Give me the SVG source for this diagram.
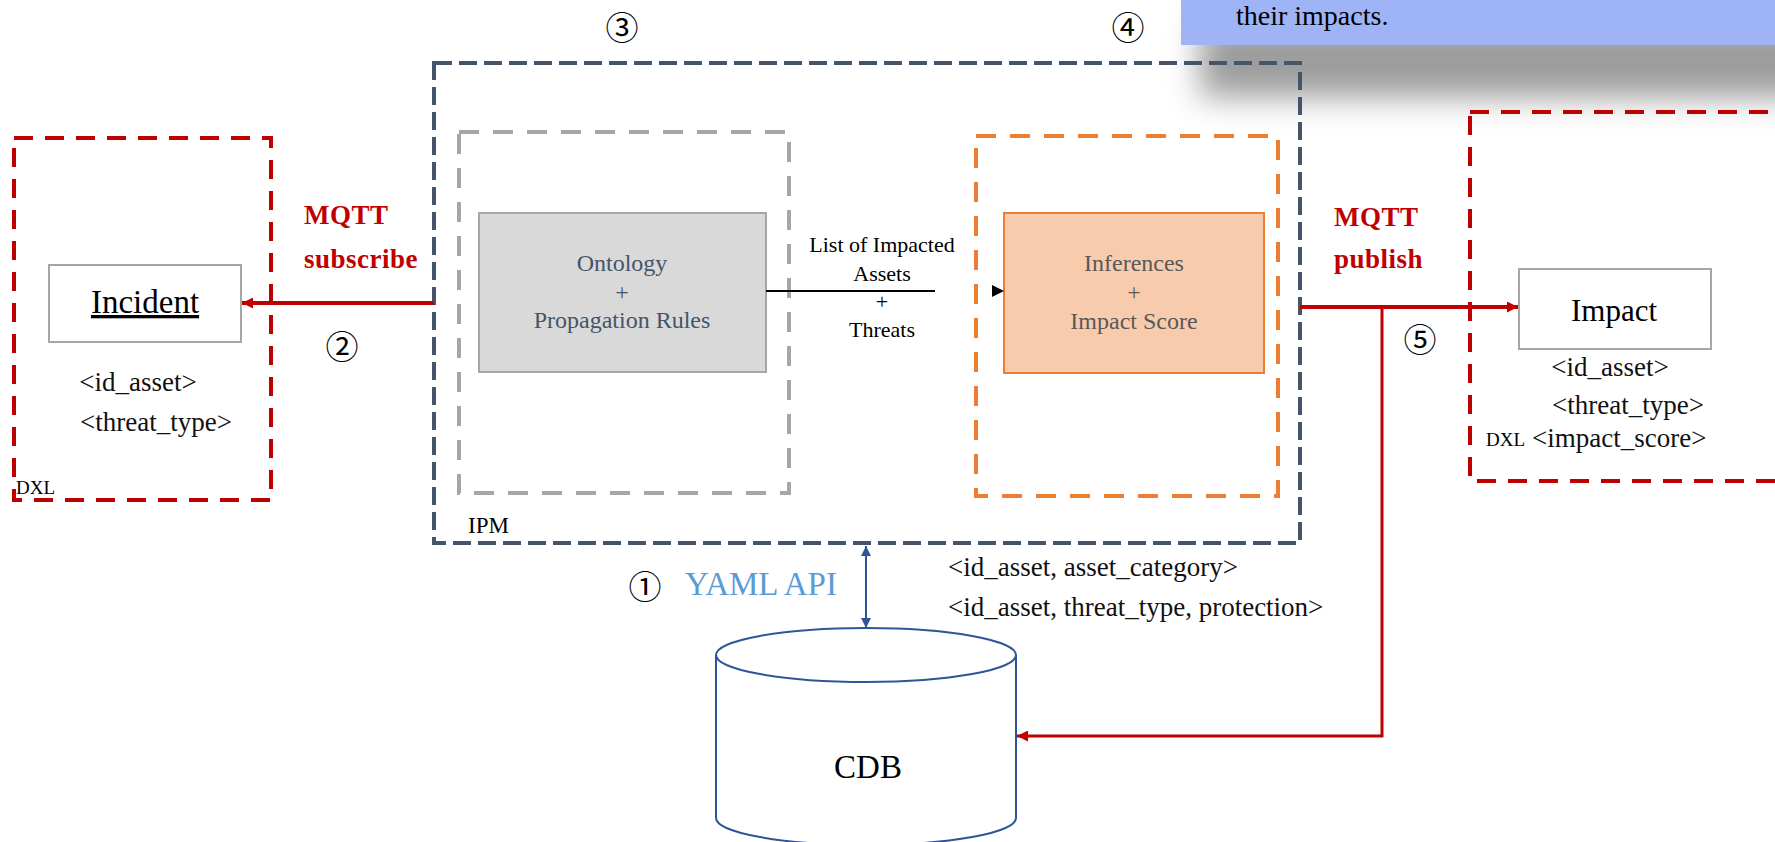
<svg xmlns="http://www.w3.org/2000/svg" width="1775" height="842" viewBox="0 0 1775 842">
<style>
.s{font-family:"Liberation Serif","Times New Roman",serif;}
.c{font-family:"Noto Sans CJK JP","DejaVu Sans",sans-serif;font-size:33px;text-anchor:middle;fill:#000;}
.red{fill:#c00000;font-size:27px;font-weight:bold;letter-spacing:0.5px;}
.sm{font-size:27px;fill:#111;}
.box{font-size:24px;text-anchor:middle;}
.dxl{fill:none;stroke:#c00000;stroke-width:4;stroke-dasharray:19 12;}
.wbox{fill:#fff;stroke:#a6a6a6;stroke-width:2;}
</style>
<defs>
<filter id="sh" x="-30%" y="-100%" width="160%" height="300%"><feGaussianBlur stdDeviation="16"/></filter>
<marker id="mr" viewBox="0 0 10 10" refX="10" refY="5" markerWidth="12" markerHeight="11" markerUnits="userSpaceOnUse" orient="auto"><path d="M0,0 L10,5 L0,10 z" fill="#c00000"/></marker>
<marker id="mb" viewBox="0 0 10 10" refX="10" refY="5" markerWidth="11" markerHeight="10" markerUnits="userSpaceOnUse" orient="auto-start-reverse"><path d="M0,0 L10,5 L0,10 z" fill="#2f5597"/></marker>
</defs>
<rect width="1775" height="842" fill="#fff"/>

<g id="banner">
<rect x="1200" y="22" width="620" height="75" fill="#7a7a7a" opacity="0.75" filter="url(#sh)"/>
<rect x="1181" y="-5" width="600" height="50" fill="#9eb4f7"/>
<text class="s" x="1236" y="25" font-size="28">their impacts.</text>
</g>

<g id="dxl-in">
<rect class="dxl" x="14" y="138" width="257" height="362"/>
<text class="s" x="16" y="494" font-size="19">DXL</text>
</g>
<g id="incident">
<rect class="wbox" x="49" y="265" width="192" height="77"/>
<text class="s" x="145" y="313" font-size="33" text-anchor="middle" text-decoration="underline">Incident</text>
<text class="s sm" x="138" y="391" text-anchor="middle">&lt;id_asset&gt;</text>
<text class="s sm" x="156" y="431" text-anchor="middle">&lt;threat_type&gt;</text>
</g>

<g id="ipm">
<rect x="434" y="63" width="866" height="480" fill="none" stroke="#44546a" stroke-width="4" stroke-dasharray="18 7"/>
<text class="s" x="468" y="533" font-size="23">IPM</text>
</g>
<g id="ontology-group">
<rect x="459" y="132" width="330" height="361" fill="none" stroke="#a6a6a6" stroke-width="4" stroke-dasharray="20 14"/>
</g>
<g id="ontology">
<rect x="479" y="213" width="287" height="159" fill="#d9d9d9" stroke="#a6a6a6" stroke-width="2"/>
<text class="s box" x="622" y="271" fill="#44546a">Ontology</text>
<text class="s box" x="622" y="300" fill="#44546a">+</text>
<text class="s box" x="622" y="328" fill="#44546a">Propagation Rules</text>
</g>
<g id="inference-group">
<rect x="976" y="136" width="302" height="360" fill="none" stroke="#ed7d31" stroke-width="4" stroke-dasharray="20 14"/>
</g>
<g id="inferences">
<rect x="1004" y="213" width="260" height="160" fill="#f8cbad" stroke="#ed7d31" stroke-width="2"/>
<text class="s box" x="1134" y="271" fill="#595959">Inferences</text>
<text class="s box" x="1134" y="300" fill="#595959">+</text>
<text class="s box" x="1134" y="329" fill="#595959">Impact Score</text>
</g>

<g id="dxl-out">
<rect class="dxl" x="1470" y="112" width="340" height="369"/>
<text class="s" x="1486" y="446" font-size="19">DXL</text>
</g>
<g id="impact">
<rect class="wbox" x="1519" y="269" width="192" height="80"/>
<text class="s" x="1614" y="321" font-size="31" text-anchor="middle">Impact</text>
<text class="s sm" x="1610" y="376" text-anchor="middle">&lt;id_asset&gt;</text>
<text class="s sm" x="1628" y="414" text-anchor="middle">&lt;threat_type&gt;</text>
<text class="s sm" x="1532" y="447">&lt;impact_score&gt;</text>
</g>

<g id="cdb">
<path d="M716,655 L716,818 A150,27 0 0 0 1016,818 L1016,655" fill="#fff" stroke="#2f5597" stroke-width="2"/>
<ellipse cx="866" cy="655" rx="150" ry="27" fill="#fff" stroke="#2f5597" stroke-width="2"/>
<text class="s" x="868" y="778" font-size="33" text-anchor="middle">CDB</text>
</g>

<g id="connectors">
<line x1="434" y1="303" x2="242" y2="303" stroke="#c00000" stroke-width="4" marker-end="url(#mr)"/>
<line x1="1300" y1="307" x2="1518" y2="307" stroke="#c00000" stroke-width="4" marker-end="url(#mr)"/>
<polyline points="1382,307 1382,736 1017,736" fill="none" stroke="#c00000" stroke-width="3" marker-end="url(#mr)"/>
<line x1="766" y1="291" x2="935" y2="291" stroke="#000" stroke-width="2"/>
<path d="M992,285 L1004,291 L992,297 z" fill="#000"/>
<line x1="866" y1="546" x2="866" y2="628" stroke="#2f5597" stroke-width="2" marker-start="url(#mb)" marker-end="url(#mb)"/>
</g>

<g id="labels">
<text class="c" x="622" y="40">③</text>
<text class="c" x="1128" y="40">④</text>
<text class="s red" x="304" y="224">MQTT</text>
<text class="s red" x="304" y="268">subscribe</text>
<text class="c" x="342" y="359">②</text>
<text class="s red" x="1334" y="226">MQTT</text>
<text class="s red" x="1334" y="268">publish</text>
<text class="c" x="1420" y="352">⑤</text>
<text class="s" x="882" y="252" font-size="22" text-anchor="middle">List of Impacted</text>
<text class="s" x="882" y="281" font-size="22" text-anchor="middle">Assets</text>
<text class="s" x="882" y="309" font-size="22" text-anchor="middle">+</text>
<text class="s" x="882" y="337" font-size="22" text-anchor="middle">Threats</text>
<text class="c" x="645" y="599">①</text>
<text class="s" x="685" y="595" font-size="33" fill="#5b9bd5">YAML API</text>
<text class="s sm" x="948" y="576">&lt;id_asset, asset_category&gt;</text>
<text class="s sm" x="948" y="616">&lt;id_asset, threat_type, protection&gt;</text>
</g>
</svg>
